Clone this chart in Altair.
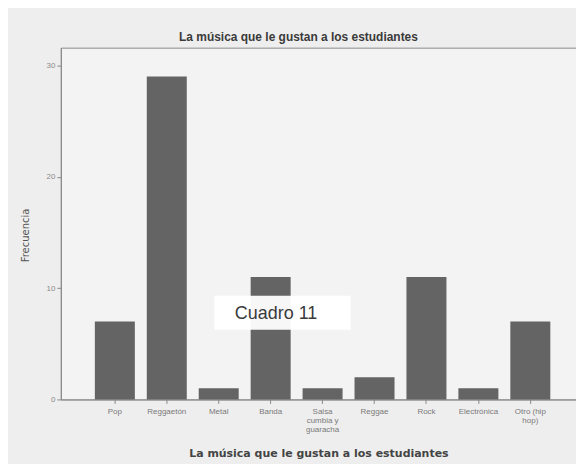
import altair as alt
import pandas as pd

categories = ["Pop", "Reggaetón", "Metal", "Banda", "Salsa cumbia y guaracha",
              "Reggae", "Rock", "Electrónica", "Otro (hip hop)"]
frecuencias = [7, 29, 1, 11, 1, 2, 11, 1, 7]

df = pd.DataFrame({"musica": categories, "frecuencia": frecuencias})

label_expr = ("datum.value == 'Salsa cumbia y guaracha' ? ['Salsa', 'cumbia y', 'guaracha'] : "
              "datum.value == 'Otro (hip hop)' ? ['Otro (hip', 'hop)'] : datum.value")

bars = alt.Chart(df).mark_bar(color="#646464").encode(
    x=alt.X("musica:N", sort=categories,
            scale=alt.Scale(paddingInner=0.23, paddingOuter=0.575, align=0.57),
            axis=alt.Axis(title="La música que le gustan a los estudiantes",
                          labelAngle=0, labelExpr=label_expr,
                          labelFont="Liberation Sans", labelFontSize=8, labelColor="#7a7a7a",
                          labelPadding=4, tickSize=4, tickColor="#888", domainColor="#888",
                          titleFont="DejaVu Sans", titleFontSize=11, titleFontWeight="bold",
                          titleColor="#444", titlePadding=14, labelLineHeight=9)),
    y=alt.Y("frecuencia:Q",
            scale=alt.Scale(domain=[0, 31.6], nice=False),
            axis=alt.Axis(title="Frecuencia", values=[0, 10, 20, 30], grid=False,
                          labelFont="Liberation Sans", labelFontSize=8, labelColor="#8a8a8a",
                          tickSize=4, tickColor="#888", domainColor="#888",
                          titleFont="DejaVu Sans", titleFontSize=10, titleFontWeight="normal",
                          titleColor="#555", titlePadding=16, titleY=188)),
)

box = alt.Chart(pd.DataFrame({"t": ["Cuadro 11"]})).mark_rect(color="#ffffff", opacity=0.95).encode(
    x=alt.value(154), x2=alt.value(291), y=alt.value(249), y2=alt.value(283)
)
label = alt.Chart(pd.DataFrame({"t": ["Cuadro 11"]})).mark_text(
    font="Liberation Sans", fontSize=18, color="#3a3a3a", align="center", baseline="middle"
).encode(text="t:N", x=alt.value(216), y=alt.value(267))

chart = alt.layer(bars, box, label).properties(
    width=517, height=353,
    background="#eeeeee",
    padding={"left": 53, "top": 39, "right": 0, "bottom": 64},
    autosize=alt.AutoSizeParams(type="none"),
    title=alt.TitleParams("La música que le gustan a los estudiantes",
                          font="Liberation Sans", fontSize=12, fontWeight="bold",
                          color="#3a3a3a", anchor="middle", offset=4, dx=-20),
).configure_view(stroke="#8c8c8c", fill="#f3f3f3")

chart.save("out.html", embed_options={"renderer": "svg", "actions": False})
